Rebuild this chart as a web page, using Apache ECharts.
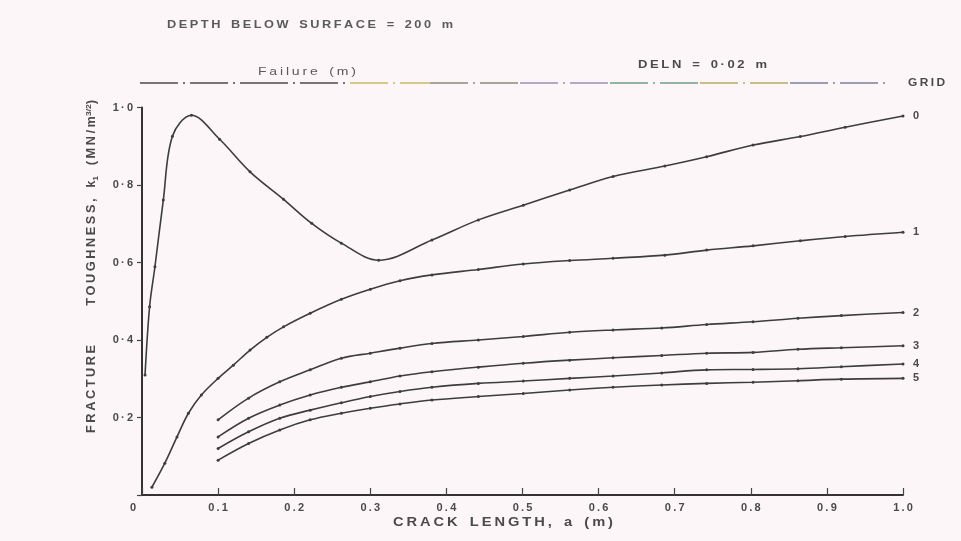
<!DOCTYPE html>
<html>
<head>
<meta charset="utf-8">
<script src="https://cdn.jsdelivr.net/npm/echarts@6/dist/echarts.min.js"></script>
<style>html,body{margin:0;padding:0;background:#fcf6f9}#c{width:961px;height:541px}</style>
</head>
<body>
<div id="c"></div>
<script>
// ---- data ----
var gridNames = ['0', '1', '2', '3', '4', '5'];
var xTickLabels = ['0', '0.1', '0.2', '0.3', '0.4', '0.5', '0.6', '0.7', '0.8', '0.9', '1.0'];
var yTickLabels = ['', '0·2', '0·4', '0·6', '0·8', '1·0'];

var x0 = [0.004, 0.010, 0.017, 0.028, 0.040, 0.065, 0.102, 0.142, 0.186, 0.223, 0.262, 0.311, 0.381, 0.442, 0.501, 0.562, 0.619, 0.687, 0.742, 0.803, 0.865, 0.924, 1.0];
var y0 = [0.31, 0.486, 0.589, 0.761, 0.926, 0.98, 0.918, 0.834, 0.763, 0.701, 0.650, 0.606, 0.658, 0.710, 0.748, 0.787, 0.822, 0.849, 0.873, 0.903, 0.925, 0.949, 0.978];

var x1 = [0.013, 0.030, 0.046, 0.061, 0.078, 0.100, 0.120, 0.142, 0.164, 0.186, 0.221, 0.262, 0.300, 0.339, 0.381, 0.442, 0.501, 0.562, 0.619, 0.687, 0.742, 0.803, 0.865, 0.924, 1.0];
var y1 = [0.02, 0.082, 0.15, 0.211, 0.258, 0.301, 0.335, 0.374, 0.407, 0.434, 0.469, 0.505, 0.531, 0.553, 0.568, 0.582, 0.596, 0.605, 0.611, 0.619, 0.632, 0.643, 0.656, 0.667, 0.678];

var xLow = [0.10, 0.14, 0.181, 0.221, 0.262, 0.30, 0.339, 0.381, 0.442, 0.501, 0.562, 0.619, 0.683, 0.742, 0.803, 0.862, 0.919, 1.0];
var y2 = [0.194, 0.25, 0.292, 0.323, 0.353, 0.366, 0.379, 0.391, 0.40, 0.409, 0.42, 0.426, 0.431, 0.44, 0.447, 0.456, 0.463, 0.471];
var y3 = [0.15, 0.198, 0.232, 0.258, 0.278, 0.292, 0.307, 0.318, 0.33, 0.34, 0.348, 0.354, 0.360, 0.366, 0.368, 0.376, 0.38, 0.385];
var y4 = [0.12, 0.163, 0.198, 0.219, 0.238, 0.254, 0.267, 0.278, 0.288, 0.294, 0.301, 0.307, 0.315, 0.323, 0.324, 0.326, 0.331, 0.338];
var y5 = [0.09, 0.133, 0.168, 0.194, 0.211, 0.224, 0.235, 0.245, 0.254, 0.262, 0.271, 0.278, 0.284, 0.288, 0.291, 0.295, 0.299, 0.301];

function pairs(xs, ys) { return xs.map(function (x, i) { return [x, ys[i]]; }); }
var curves = [pairs(x0, y0), pairs(x1, y1), pairs(xLow, y2), pairs(xLow, y3), pairs(xLow, y4), pairs(xLow, y5)];

var FONT = 'Liberation Sans';
var TXT = '#4a4a4a';
var LINE = '#3d3d3d';
var THIN = '\u2009';

// helpers for the wide, letter-spaced plotter lettering
var mctx = document.createElement('canvas').getContext('2d');
function measure(str, font) { mctx.font = font; return mctx.measureText(str).width; }
function spaced(s) {
  return s.split(' ').map(function (w) { return w.split('').join(THIN); }).join('   ');
}
function wideText(str, font, left, cy, width, color) {
  var t = spaced(str);
  var w = measure(t, font);
  return {
    type: 'text', silent: true, x: left, y: cy, scaleX: width / w,
    style: { text: t, font: font, fill: color || TXT, align: 'left', verticalAlign: 'middle' }
  };
}

var chart = echarts.init(document.getElementById('c'), null, { renderer: 'canvas' });

var series = curves.map(function (d, i) {
  return {
    type: 'line',
    name: gridNames[i],
    data: d,
    smooth: 0.35,
    showSymbol: true,
    symbol: 'circle',
    symbolSize: 3,
    itemStyle: { color: LINE },
    lineStyle: { color: LINE, width: 1.6 },
    endLabel: {
      show: true,
      formatter: gridNames[i],
      distance: 10,
      fontFamily: FONT, fontSize: 11, fontWeight: 'bold', color: TXT
    },
    animation: false
  };
});

// decorative dash-dot "failure" line segments
var dashCols = ['#4a4a4a', '#4a4a4a', '#c9b960', '#8a8a7a', '#9a8fb5', '#6e9e86', '#b6aa5e', '#7f7f9a'];
var dashStops = [140, 250, 350, 430, 520, 610, 700, 790, 885];
var graphics = [];
for (var k = 0; k < dashCols.length; k++) {
  graphics.push({
    type: 'line', silent: true,
    shape: { x1: dashStops[k], y1: 83, x2: dashStops[k + 1], y2: 83 },
    style: { stroke: dashCols[k], lineWidth: 1.6, lineDash: [38, 5, 2, 5] }
  });
}

var F11 = 'bold 11px ' + FONT;
graphics.push(
  wideText('DEPTH BELOW SURFACE = 200 m', F11, 167, 25, 286, '#5a5a5a'),
  wideText('Failure (m)', '10px ' + FONT, 258, 72, 98, '#5a5a5a'),
  wideText('DELN = 0·02 m', F11, 638, 65, 129),
  wideText('GRID', F11, 908, 83, 37),
  wideText('CRACK LENGTH, a (m)', 'bold 12px ' + FONT, 393, 523, 220)
);

// rotated y-axis title with subscript / superscript
(function () {
  var mainF = 'bold 12px ' + FONT, smallF = 'bold 8px ' + FONT;
  var a = spaced('FRACTURE') + '           ' + spaced('TOUGHNESS,') + '   k';
  var b = '1';
  var c = '   ' + spaced('(MN/m');
  var d = '3/2';
  var e = ')';
  var w = measure(a, mainF) + measure(b, smallF) + measure(c, mainF) + measure(d, smallF) + measure(e, mainF);
  graphics.push({
    type: 'text', silent: true, x: 92, y: 433, rotation: Math.PI / 2, scaleX: 333 / w,
    style: {
      text: a + '{sub|' + b + '}' + c + '{sup|' + d + '}' + e,
      font: mainF, fill: TXT, align: 'left', verticalAlign: 'middle',
      rich: {
        sub: { font: smallF, fill: TXT, padding: [7, 0, 0, 0] },
        sup: { font: smallF, fill: TXT, padding: [0, 0, 7, 0] }
      }
    }
  });
})();

chart.setOption({
  backgroundColor: '#fcf6f9',
  animation: false,
  grid: { left: 142, right: 58, top: 107.5, bottom: 46, containLabel: false },
  xAxis: {
    type: 'value', min: 0, max: 1, interval: 0.1,
    axisLine: { show: true, lineStyle: { color: '#333', width: 2 } },
    axisTick: { show: true, inside: true, length: 7, lineStyle: { color: '#444', width: 1.2 } },
    splitLine: { show: false },
    axisLabel: {
      margin: 7,
      fontFamily: FONT, fontSize: 11, fontWeight: 'bold', color: TXT,
      formatter: function (v) {
        var i = Math.round(v * 10);
        var s = xTickLabels[i].split('').join(THIN);
        return i === 0 ? '{z|' + s + '}' : s;
      },
      rich: { z: { padding: [0, 18, 0, 0], fontFamily: FONT, fontSize: 11, fontWeight: 'bold', color: TXT } }
    }
  },
  yAxis: {
    type: 'value', min: 0, max: 1, interval: 0.2,
    axisLine: { show: true, lineStyle: { color: '#333', width: 2 } },
    axisTick: { show: true, inside: false, length: 5, lineStyle: { color: '#444', width: 1.2 } },
    splitLine: { show: false },
    axisLabel: {
      margin: 9,
      fontFamily: FONT, fontSize: 11, fontWeight: 'bold', color: TXT,
      formatter: function (v) { return yTickLabels[Math.round(v * 5)].split('').join(THIN); }
    }
  },
  graphic: graphics,
  series: series
});
</script>
</body>
</html>
